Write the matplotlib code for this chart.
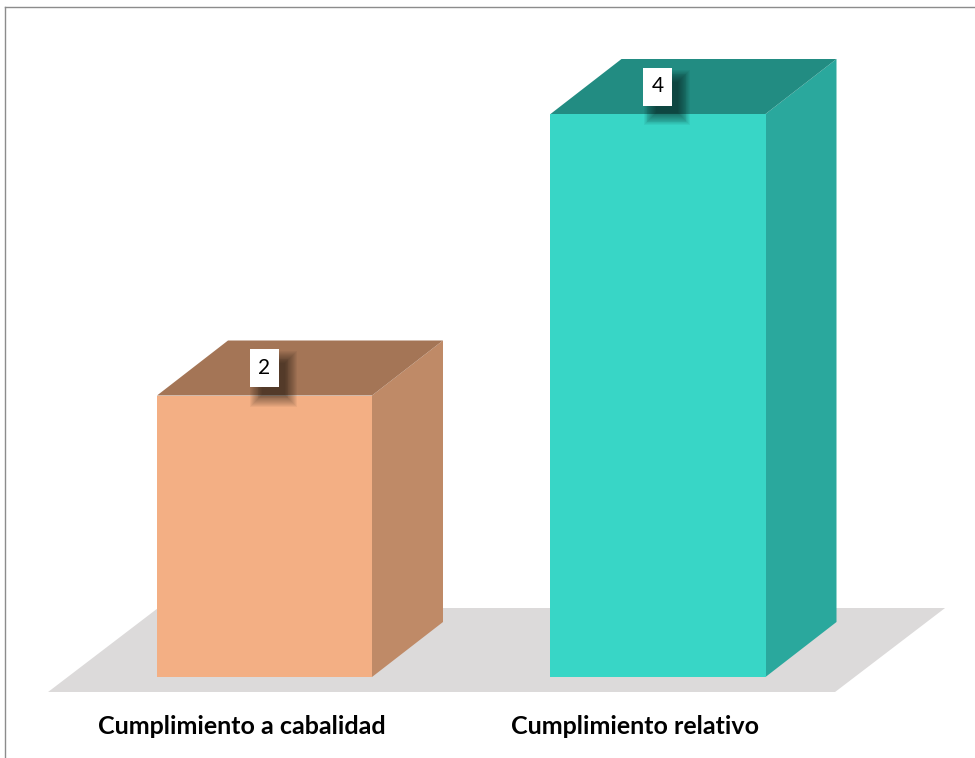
import matplotlib.pyplot as plt
from matplotlib.patches import Polygon, Rectangle
import numpy as np

# data
categories = ["Cumplimiento a cabalidad", "Cumplimiento relativo"]
values = [2, 4]
front_colors = ["#F3AF84", "#38D6C6"]
side_colors = ["#BF8A67", "#2AA89D"]
top_colors = ["#A47556", "#228C82"]

W, H = 975, 758
fig = plt.figure(figsize=(W / 100, H / 100), dpi=100)
ax = fig.add_axes([0, 0, 1, 1])

# scale: 1 category unit = 393.5 px, 1 value unit = 140.75 px
px_x = 1 / 393.5
px_y = 1 / 140.75
ax.set_xlim(-264.5 * px_x, (W - 264.5) * px_x)
ax.set_ylim(-(H - 677) * px_y, 677 * px_y)
ax.axis("off")

bw = 215 * px_x          # bar width
dx, dy = 71 * px_x, 55 * px_y   # depth offset

# floor
f_l, f_r = -0.55, 1.45
f_y0, f_y1 = -15 * px_y, 69 * px_y
f_dx = 110 * px_x
ax.add_patch(Polygon([(f_l, f_y0), (f_r, f_y0), (f_r + f_dx, f_y1), (f_l + f_dx, f_y1)],
                     closed=True, facecolor="#DCDADA", edgecolor="none", zorder=1))

for i, v in enumerate(values):
    x0, x1 = i - bw / 2, i + bw / 2
    # side face
    ax.add_patch(Polygon([(x1, 0), (x1 + dx, dy), (x1 + dx, v + dy), (x1, v)],
                         closed=True, facecolor=side_colors[i], edgecolor="none", zorder=2))
    # top face
    ax.add_patch(Polygon([(x0, v), (x1, v), (x1 + dx, v + dy), (x0 + dx, v + dy)],
                         closed=True, facecolor=top_colors[i], edgecolor="none", zorder=2))
    # front face
    ax.add_patch(Rectangle((x0, 0), bw, v, facecolor=front_colors[i], edgecolor="none", zorder=3))

    # value label with soft shadow
    lx, ly = i, v + dy / 2
    bwid, bhei = 29 * px_x, 38 * px_y
    n = 14
    for k in range(n):
        g = (n - k) * 0.9 - 4
        ax.add_patch(Rectangle((lx - bwid / 2 + 9 * px_x - g * px_x, ly - bhei / 2 - 11 * px_y - g * px_y),
                               bwid + 2 * g * px_x, bhei + 2 * g * px_y,
                               facecolor="black", edgecolor="none", alpha=0.045, zorder=4))
    ax.add_patch(Rectangle((lx - bwid / 2, ly - bhei / 2), bwid, bhei,
                           facecolor="white", edgecolor="none", zorder=5))
    ax.text(lx, ly, str(v), ha="center", va="center", fontsize=15,
            family="Lato", color="black", zorder=6)

    # category label
    ax.text(i - 23 * px_x, -50 * px_y, categories[i], ha="center", va="center",
            fontsize=18, fontweight="bold", family="Lato", color="black")

# chart border
fig.add_artist(plt.Line2D([5 / W, 5 / W], [0, 1 - 7 / H], transform=fig.transFigure,
                          color="#8C8C8C", lw=1))
fig.add_artist(plt.Line2D([5 / W, 1], [1 - 7 / H, 1 - 7 / H], transform=fig.transFigure,
                          color="#8C8C8C", lw=1))

fig.savefig("out.png", dpi=100)
